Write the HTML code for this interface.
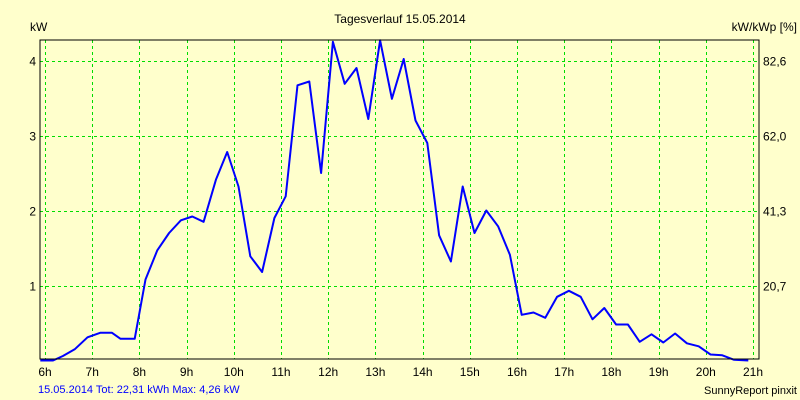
<!DOCTYPE html>
<html><head><meta charset="utf-8"><style>
body{margin:0;background:#ffffcc;}
svg{display:block;font-family:"Liberation Sans",sans-serif;}
</style></head><body>
<svg id="chart" width="800" height="400" viewBox="0 0 800 400">
<rect x="0" y="0" width="800" height="400" fill="#ffffcc"/>
<text x="400" y="23" font-size="12" text-anchor="middle">Tagesverlauf 15.05.2014</text>
<text x="30" y="31" font-size="12">kW</text>
<text x="797" y="31" font-size="12" text-anchor="end">kW/kWp [%]</text>
<g id="grid"></g>
<g id="axes"></g>
<g id="series"></g>
<rect x="40" y="40" width="719" height="319" fill="none" stroke="#000" stroke-width="1"/>
<text x="38" y="393" font-size="11" fill="#0000ff">15.05.2014 Tot: 22,31 kWh Max: 4,26 kW</text>
<text x="797" y="394" font-size="11" text-anchor="end">SunnyReport pinxit</text>
</svg>
<script>
const hourTicks=[6,7,8,9,10,11,12,13,14,15,16,17,18,19,20,21];
const kwTicks=[1,2,3,4];
const pctLabels=["20,7","41,3","62,0","82,6"];
const times=[5.9,6.17,6.38,6.63,6.9,7.17,7.42,7.6,7.9,8.13,8.38,8.63,8.88,9.12,9.36,9.62,9.86,10.1,10.35,10.6,10.86,11.1,11.35,11.6,11.85,12.1,12.35,12.6,12.85,13.1,13.35,13.6,13.85,14.1,14.35,14.6,14.85,15.1,15.35,15.6,15.85,16.1,16.35,16.6,16.85,17.1,17.35,17.6,17.85,18.1,18.35,18.6,18.85,19.1,19.35,19.6,19.85,20.1,20.35,20.6,20.9];
const powerKw=[0,0,0.06,0.15,0.31,0.37,0.37,0.29,0.29,1.08,1.47,1.7,1.87,1.92,1.85,2.41,2.78,2.32,1.39,1.18,1.9,2.19,3.67,3.72,2.5,4.25,3.69,3.9,3.22,4.27,3.49,4.02,3.2,2.9,1.67,1.32,2.32,1.7,2.0,1.79,1.41,0.61,0.64,0.57,0.85,0.93,0.85,0.55,0.7,0.48,0.48,0.25,0.35,0.24,0.36,0.23,0.19,0.08,0.07,0.01,0];
const NS="http://www.w3.org/2000/svg";
function xS(h){return 45+(h-6)*47.2;}
function yS(v){return 360.5-v*75;}
function mk(tag,attrs,parent){const e=document.createElementNS(NS,tag);for(const k in attrs)e.setAttribute(k,attrs[k]);parent.appendChild(e);return e;}
const grid=document.getElementById('grid'),axes=document.getElementById('axes'),series=document.getElementById('series');
hourTicks.forEach(h=>{
 const x=Math.round(xS(h))+0.5;
 const l=mk('line',{x1:x,x2:x,y1:40,y2:359,stroke:'#00dd00','stroke-dasharray':'3,3'},grid);
 
 
 const t=mk('text',{x:xS(h),y:376,'font-size':12,'text-anchor':'middle'},axes);
 t.textContent=h+'h';
 
 
});
kwTicks.forEach((v,i)=>{
 const y=Math.round(yS(v))+0.5;
 const l=mk('line',{x1:40,x2:759,y1:y,y2:y,stroke:'#00dd00','stroke-dasharray':'3,3'},grid);
 
 
 const t=mk('text',{x:36,y:y+4,'font-size':12,'text-anchor':'end'},axes);
 t.textContent=v;
 
 
 const r=mk('text',{x:763,y:y+4,'font-size':12},axes);
 r.textContent=pctLabels[i];
 
 
});
const pts=times.map((t,i)=>xS(t).toFixed(1)+','+yS(powerKw[i]).toFixed(1)).join(' ');
const pl=mk('polyline',{points:pts,fill:'none',stroke:'#0000ff','stroke-width':2,'stroke-linejoin':'round'},series);


</script>
</body></html>
